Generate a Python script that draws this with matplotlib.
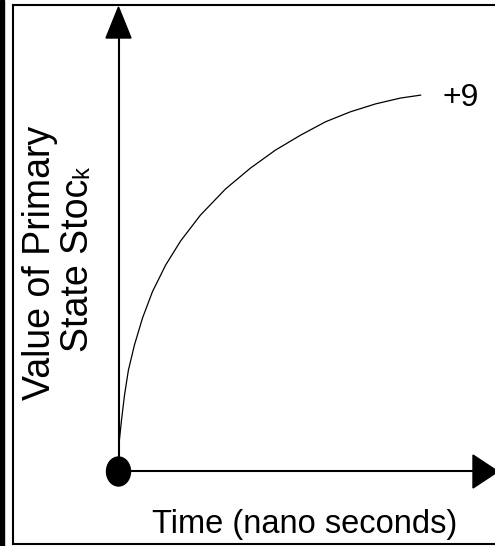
import matplotlib
matplotlib.use("Agg")
import matplotlib.pyplot as plt
from matplotlib.patches import Ellipse, Polygon, Rectangle
from matplotlib.lines import Line2D
from matplotlib import font_manager

# ---- data ----
time_ns = [0, 0.03, 0.10, 0.20, 0.33, 0.53, 0.80, 1.13, 1.57, 2.07,
           2.73, 3.57, 4.40, 5.23, 6.07, 6.90, 7.73, 8.57, 9.40, 10.07]
stock = [0, 0.74, 1.22, 1.82, 2.42, 3.02, 3.67, 4.30, 4.94, 5.52,
         6.14, 6.77, 7.27, 7.70, 8.06, 8.38, 8.62, 8.81, 8.95, 9.02]
end_label = "+9"
x_label = "Time (nano seconds)"
y_label_1 = "Value of Primary"
y_label_2 = "State Stoc"
y_label_small = "k"

W, H = 495, 546
fig = plt.figure(figsize=(W / 100, H / 100), dpi=100)
fig.patch.set_facecolor("white")

# data axes covering whole figure: origin at pixel (118, 471)
ox, oy = 118.5, 471
sx, sy = 30.0, 41.67
ax = fig.add_axes([0, 0, 1, 1])
ax.set_xlim(-ox / sx, (W - ox) / sx)
ax.set_ylim(-(H - oy) / sy, oy / sy)
ax.axis("off")

names = {f.name for f in font_manager.fontManager.ttflist}
regular = "Liberation Sans"
if "Liberation Sans Narrow" in names:
    narrow, fs_x, fs_end = "Liberation Sans Narrow", 28, 27
else:
    narrow, fs_x, fs_end = "Liberation Sans", 23.5, 23


def P(x, y):
    return (x / W, 1 - y / H)


tf = fig.transFigure

# ---- frame ----
fig.patches.append(Rectangle(P(0, H), 3.5 / W, 1, transform=tf, color="black", zorder=1))
lw_frame = 1.5
for (x0, y0), (x1, y1) in [((13, 5), (13, 544)), ((13, 5), (500, 5)), ((13, 544), (500, 544))]:
    fig.lines.append(Line2D([P(x0, y0)[0], P(x1, y1)[0]], [P(x0, y0)[1], P(x1, y1)[1]],
                            transform=tf, color="black", lw=lw_frame))

# ---- axes with arrows ----
fig.lines.append(Line2D([P(118.5, 471)[0], P(118.5, 36)[0]], [P(118.5, 471)[1], P(118.5, 36)[1]],
                        transform=tf, color="black", lw=1.5))
fig.lines.append(Line2D([P(118.5, 471)[0], P(476, 471)[0]], [P(118.5, 471)[1], P(476, 471)[1]],
                        transform=tf, color="black", lw=1.5))
fig.patches.append(Polygon([P(106, 38), P(131, 38), P(118.5, 7)], closed=True,
                           transform=tf, color="black"))
fig.patches.append(Polygon([P(473, 455), P(473, 488), P(498, 471.5)], closed=True,
                           transform=tf, color="black"))
fig.patches.append(Ellipse(P(118.5, 471.5), 24 / W, 29 / H, transform=tf, color="black", zorder=5))

# ---- curve ----
ax.plot(time_ns, stock, color="black", lw=0.9)

# ---- texts ----
fig.text(*P(442, 106), end_label, fontsize=fs_end, family=narrow, ha="left", va="baseline")
fig.text(*P(305, 533), x_label, fontsize=fs_x, family=narrow, ha="center", va="baseline")
fig.text(*P(50, 263), y_label_1, fontsize=27, family=regular, rotation=90,
         rotation_mode="anchor", ha="center", va="baseline")
t2 = fig.text(*P(88, 352), y_label_2, fontsize=27, family=regular, rotation=90,
              rotation_mode="anchor", ha="left", va="baseline")
fig.canvas.draw()
bb = t2.get_window_extent(fig.canvas.get_renderer())
kx, ky = fig.transFigure.inverted().transform((88, bb.y1 + 1))
fig.text(P(88, 0)[0], ky, y_label_small, fontsize=17, family=regular, rotation=90,
         rotation_mode="anchor", ha="left", va="baseline")

fig.savefig("out.png", dpi=100, facecolor="white")
